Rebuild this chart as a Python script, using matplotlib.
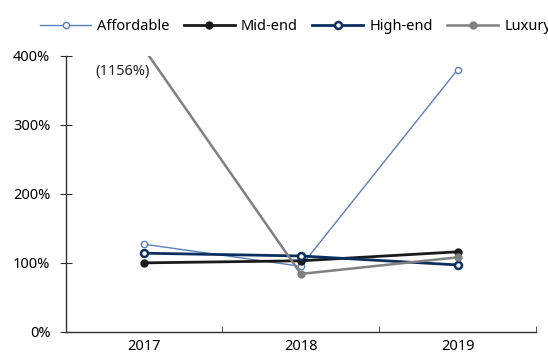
import numpy as np
import matplotlib.pyplot as plt
from matplotlib.ticker import FuncFormatter

plt.rcParams['font.family'] = ['Noto Sans', 'DejaVu Sans']
plt.rcParams['font.size'] = 10.5

years = ['2017', '2018', '2019']
affordable = [1.27, 0.95, 3.80]
mid_end = [1.00, 1.03, 1.16]
high_end = [1.14, 1.10, 0.97]
luxury = [11.56, 0.84, 1.08]

y_max = 4.0
# luxury 2017 is far off the scale, so the line is cut at the top and labelled
luxury_shown = np.minimum(luxury, 4.1)

fig = plt.figure(figsize=(5.48, 3.58), dpi=100)
ax = fig.add_axes([0.120, 0.073, 0.858, 0.771])

x = np.arange(len(years))
ax.plot(x, affordable, color='#5b80b8', lw=1.0, marker='o', ms=4.5,
        mfc='white', mec='#5b80b8', mew=1.0, label='Affordable')
ax.plot(x, mid_end, color='#1a1a1a', lw=2.0, marker='o', ms=5,
        mfc='#1a1a1a', mec='#1a1a1a', label='Mid-end')
ax.plot(x, high_end, color='#0b3060', lw=2.0, marker='o', ms=5,
        mfc='white', mec='#0b3060', mew=1.8, label='High-end')
ax.plot(x, luxury_shown, color='#808080', lw=1.8, marker='o', ms=5,
        mfc='#808080', mec='#808080', label='Luxury')

ax.text(-0.14, 3.78, '({:.0f}%)'.format(luxury[0] * 100), ha='center',
        va='center', color='#222222')

ax.set_xlim(-0.5, 2.5)
ax.set_ylim(0, y_max)
ax.set_xticks(x)
ax.set_xticklabels(years)
ax.set_xticks([0.5, 1.5, 2.5], minor=True)
ax.tick_params(axis='x', which='major', length=0, pad=5)
ax.tick_params(axis='x', which='minor', direction='in', length=4, color='#333333')
ax.set_yticks([0, 1, 2, 3, 4])
ax.yaxis.set_major_formatter(FuncFormatter(lambda v, p: '{:.0f}%'.format(v * 100)))
ax.tick_params(axis='y', direction='inout', length=8, color='#333333', pad=7)

for s in ['top', 'right']:
    ax.spines[s].set_visible(False)
for s in ['left', 'bottom']:
    ax.spines[s].set_color('#333333')
    ax.spines[s].set_linewidth(1.0)

fig.legend(loc='center left', bbox_to_anchor=(0.073, 0.926), ncol=4, frameon=False,
           handlelength=3.5, handletextpad=0.4, columnspacing=1.0,
           borderaxespad=0, borderpad=0)

fig.savefig('out.png', dpi=100)
